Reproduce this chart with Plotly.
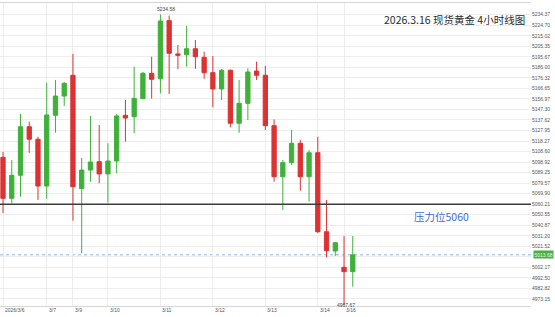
import plotly.graph_objects as go

# ---------------- data ----------------
opens  = [5103.3, 5065.6, 5086.8, 5131.4, 5119.9, 5076.9, 5141.9, 5159.6, 5178.7, 5074.5,
          5091.6, 5099.3, 5088.0, 5099.9, 5141.9, 5140.6, 5157.2, 5180.5, 5175.5, 5228.9,
          5198.3, 5197.6, 5203.1, 5195.2, 5181.1, 5166.1, 5183.3, 5134.6, 5152.9, 5182.6,
          5178.7, 5132.4, 5085.5, 5098.4, 5116.2, 5085.5, 5107.5, 5034.9, 5017.2, 5002.2,
          4998.2]
highs  = [5108.2, 5100.8, 5143.1, 5136.0, 5122.2, 5171.9, 5174.4, 5172.5, 5198.3, 5102.7,
          5141.3, 5133.0, 5116.2, 5143.1, 5156.0, 5186.6, 5181.7, 5195.8, 5234.58, 5233.5,
          5206.5, 5224.0, 5211.1, 5200.4, 5196.4, 5184.5, 5184.0, 5174.4, 5185.1, 5191.2,
          5187.2, 5138.2, 5100.8, 5128.4, 5119.2, 5110.0, 5122.2, 5064.1, 5025.5, 5031.0,
          5031.0]
lows   = [5052.1, 5061.0, 5067.1, 5107.3, 5064.1, 5065.0, 5125.9, 5150.5, 5045.0, 5015.1,
          5080.9, 5079.4, 5061.6, 5088.6, 5117.7, 5125.4, 5156.9, 5157.2, 5162.1, 5161.5,
          5184.5, 5186.6, 5184.7, 5175.5, 5149.3, 5156.0, 5130.9, 5125.9, 5137.6, 5174.4,
          5128.4, 5080.9, 5054.9, 5096.2, 5072.6, 5062.5, 5033.7, 5011.4, 5012.6, 4967.67,
          4984.4]
closes = [5065.6, 5086.8, 5131.4, 5119.9, 5076.9, 5142.2, 5159.6, 5171.3, 5076.3, 5091.6,
          5099.0, 5088.0, 5099.9, 5141.3, 5139.4, 5157.5, 5180.5, 5175.0, 5228.6, 5198.9,
          5197.1, 5203.1, 5195.8, 5181.1, 5166.1, 5183.3, 5134.6, 5152.9, 5181.7, 5178.7,
          5132.4, 5085.5, 5098.4, 5116.2, 5085.5, 5107.5, 5034.9, 5017.5, 5024.8, 4998.2,
          5013.68]

date_labels = ["2026/3/6", "3/7", "3/9", "3/10", "3/11", "3/12", "3/13", "3/14", "3/16"]
date_index  = [0, 5, 8, 12, 18, 24, 30, 36, 39]

y_tick_vals = [5234.37, 5224.70, 5215.02, 5205.35, 5195.67, 5186.00, 5176.32, 5166.65,
               5156.97, 5147.30, 5137.62, 5127.95, 5118.27, 5108.60, 5098.92, 5089.25,
               5079.57, 5069.90, 5060.21, 5050.55, 5040.87, 5031.20, 5021.52, 5011.85,
               5002.17, 4992.50, 4982.82, 4973.15]
y_tick_text = ["5234.37", "5224.70", "5215.02", "5205.35", "5195.67", "5186.00", "5176.32",
               "5166.65", "5156.97", "5147.30", "5137.62", "5127.95", "5118.27", "5108.60",
               "5098.92", "5089.25", "5079.57", "5069.90", "5060.21", "5050.55", "5040.87",
               "5031.20", "5021.52", "", "5002.17", "4992.50", "4982.82", "4973.15"]

resistance = 5060.21
resistance_label = "压力位5060"
title_text = "2026.3.16 现货黄金 4小时线图"
high_idx, high_val = 18, 5234.58
low_idx, low_val = 39, 4967.67

GREEN = "#3fb13a"
RED = "#dc3232"
NUM_FONT = "Liberation Sans, Arial, sans-serif"
CJK_FONT = "Noto Sans CJK SC, sans-serif"

x = list(range(len(opens)))
last_close = closes[-1]

fig = go.Figure()
fig.add_trace(go.Candlestick(
    x=x, open=opens, high=highs, low=lows, close=closes,
    increasing=dict(line=dict(color=GREEN, width=1), fillcolor=GREEN),
    decreasing=dict(line=dict(color=RED, width=1), fillcolor=RED),
    whiskerwidth=0, showlegend=False, hoverinfo="skip",
))

# resistance line
fig.add_shape(type="line", xref="paper", x0=0, x1=1, yref="y", y0=resistance, y1=resistance,
              line=dict(color="#3c3c3c", width=1.5), layer="above")
# current price dotted line
fig.add_shape(type="line", xref="paper", x0=0, x1=1, yref="y", y0=last_close, y1=last_close,
              line=dict(color="#8db4e6", width=1, dash="dot"), layer="below")

annotations = []
annotations.append(dict(text=title_text, xref="paper", yref="paper", x=0.9925, y=0.946,
                        xanchor="right", yanchor="middle", showarrow=False,
                        font=dict(family=CJK_FONT, size=10.5, color="#2b2b2b")))
annotations.append(dict(text=resistance_label, xref="paper", yref="y", x=0.775, y=resistance,
                        yshift=-12, xanchor="left", yanchor="middle", showarrow=False,
                        font=dict(family=CJK_FONT, size=10.5, color="#4468d0")))
annotations.append(dict(text=f"{high_val:.2f}", xref="x", yref="y", x=high_idx, y=high_val,
                        xshift=5.4, yshift=5.5, xanchor="center", yanchor="middle",
                        showarrow=False, font=dict(family=NUM_FONT, size=5, color="#444")))
annotations.append(dict(text=f"{low_val:.2f}", xref="x", yref="y", x=low_idx, y=low_val,
                        xshift=2.3, yshift=0, xanchor="center", yanchor="middle",
                        showarrow=False, font=dict(family=NUM_FONT, size=5, color="#444")))
for lbl, idx in zip(date_labels, date_index):
    annotations.append(dict(text=lbl, xref="x", yref="paper", x=idx, y=-0.0116,
                            xanchor="left", yanchor="middle", showarrow=False,
                            font=dict(family=NUM_FONT, size=5, color="#555")))
# current price tag
annotations.append(dict(text=f"{last_close:.2f}", xref="paper", yref="y", x=1.0, y=last_close,
                        xshift=2, xanchor="left", yanchor="middle", showarrow=False,
                        bgcolor="#49b043", borderpad=0.5,
                        font=dict(family=NUM_FONT, size=5, color="#eaf7e8")))

fig.update_layout(
    width=555, height=317,
    margin=dict(l=0, r=24, t=3, b=11),
    paper_bgcolor="white", plot_bgcolor="white",
    boxgap=0.3,
    annotations=annotations,
    xaxis=dict(range=[-0.343, 60.38], rangeslider=dict(visible=False),
               tickvals=date_index, showticklabels=False, ticks="",
               showgrid=True, gridcolor="#ececec", gridwidth=1, zeroline=False,
               showline=True, mirror=True, linecolor="#d6d6d6", linewidth=1),
    yaxis=dict(range=[4966.64, 5245.12], side="right", tickvals=y_tick_vals,
               ticktext=y_tick_text, ticks="", showgrid=True, gridcolor="#ececec",
               gridwidth=1, zeroline=False, showline=False,
               tickfont=dict(family=NUM_FONT, size=5, color="#555")),
)

fig.write_html("out.html")
